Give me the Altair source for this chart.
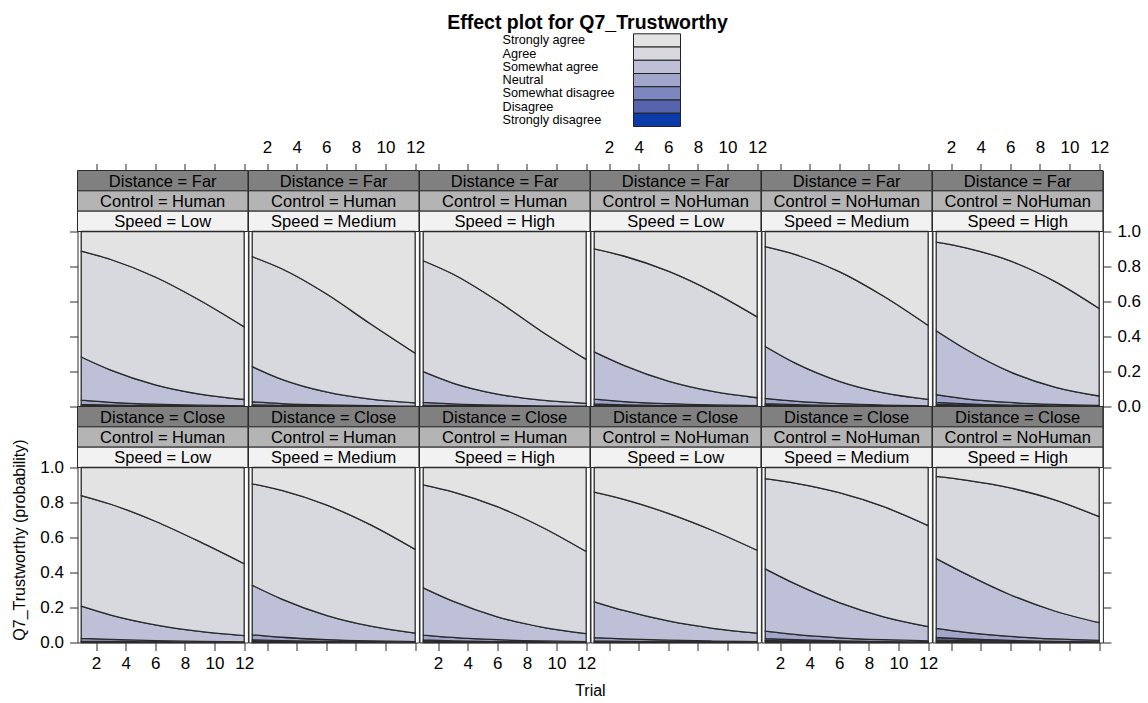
import altair as alt
import pandas as pd

FONT = "Liberation Sans"

# ---------------- data ----------------
trials = [1, 3, 6, 9, 12]

distance = ["Far"] * 6 + ["Close"] * 6
control = ["Human", "Human", "Human", "NoHuman", "NoHuman", "NoHuman"] * 2
speed = ["Low", "Medium", "High"] * 4

categories = ["Strongly disagree", "Disagree", "Somewhat disagree", "Neutral",
              "Somewhat agree", "Agree", "Strongly agree"]
colors = ["#0B3BA8", "#5663AD", "#7D86BF", "#A1A6CB", "#BDC0D6", "#D8D9DF", "#E3E3E3"]

# cumulative probabilities P(response <= level) at trials 1, 3, 6, 9, 12 (one row per panel)
cum_sd = [
    [0.0027, 0.0018, 0.0010, 0.0005, 0.0003],
    [0.0020, 0.0012, 0.0006, 0.0003, 0.0002],
    [0.0017, 0.0010, 0.0005, 0.0003, 0.0001],
    [0.0030, 0.0021, 0.0011, 0.0006, 0.0004],
    [0.0035, 0.0022, 0.0011, 0.0006, 0.0003],
    [0.0051, 0.0033, 0.0017, 0.0008, 0.0004],
    [0.0018, 0.0013, 0.0008, 0.0005, 0.0003],
    [0.0033, 0.0022, 0.0012, 0.0007, 0.0004],
    [0.0031, 0.0021, 0.0012, 0.0007, 0.0004],
    [0.0021, 0.0015, 0.0010, 0.0006, 0.0004],
    [0.0049, 0.0034, 0.0020, 0.0012, 0.0007],
    [0.0062, 0.0043, 0.0025, 0.0015, 0.0009],
]
cum_d = [
    [0.0065, 0.0043, 0.0023, 0.0013, 0.0007],
    [0.0049, 0.0030, 0.0015, 0.0007, 0.0004],
    [0.0041, 0.0026, 0.0013, 0.0006, 0.0003],
    [0.0075, 0.0051, 0.0028, 0.0016, 0.0009],
    [0.0086, 0.0055, 0.0028, 0.0014, 0.0007],
    [0.0125, 0.0080, 0.0041, 0.0021, 0.0010],
    [0.0043, 0.0031, 0.0019, 0.0011, 0.0007],
    [0.0080, 0.0054, 0.0030, 0.0017, 0.0009],
    [0.0075, 0.0051, 0.0029, 0.0016, 0.0009],
    [0.0050, 0.0037, 0.0023, 0.0015, 0.0009],
    [0.0119, 0.0083, 0.0049, 0.0028, 0.0017],
    [0.0151, 0.0106, 0.0062, 0.0036, 0.0021],
]
cum_swd = [
    [0.0124, 0.0083, 0.0045, 0.0024, 0.0013],
    [0.0093, 0.0058, 0.0029, 0.0014, 0.0007],
    [0.0078, 0.0049, 0.0024, 0.0012, 0.0006],
    [0.0142, 0.0096, 0.0054, 0.0030, 0.0017],
    [0.0163, 0.0104, 0.0053, 0.0027, 0.0014],
    [0.0237, 0.0152, 0.0078, 0.0039, 0.0020],
    [0.0082, 0.0059, 0.0036, 0.0021, 0.0013],
    [0.0152, 0.0104, 0.0058, 0.0032, 0.0018],
    [0.0142, 0.0097, 0.0054, 0.0031, 0.0017],
    [0.0096, 0.0070, 0.0045, 0.0028, 0.0018],
    [0.0225, 0.0158, 0.0093, 0.0054, 0.0032],
    [0.0285, 0.0200, 0.0118, 0.0069, 0.0040],
]
cum_n = [
    [0.036, 0.024, 0.013, 0.0073, 0.0040],
    [0.027, 0.017, 0.0085, 0.0042, 0.0021],
    [0.023, 0.015, 0.0072, 0.0035, 0.0017],
    [0.042, 0.028, 0.016, 0.0089, 0.0050],
    [0.047, 0.031, 0.016, 0.0080, 0.0041],
    [0.068, 0.044, 0.023, 0.0118, 0.0060],
    [0.024, 0.0175, 0.0106, 0.0064, 0.0039],
    [0.044, 0.030, 0.017, 0.0096, 0.0054],
    [0.042, 0.029, 0.016, 0.0091, 0.0051],
    [0.028, 0.021, 0.013, 0.0084, 0.0053],
    [0.065, 0.046, 0.027, 0.0161, 0.0095],
    [0.081, 0.058, 0.035, 0.0204, 0.0120],
]
cum_swa = [
    [0.283, 0.208, 0.124, 0.071, 0.040],
    [0.228, 0.155, 0.083, 0.042, 0.021],
    [0.199, 0.134, 0.071, 0.036, 0.018],
    [0.312, 0.235, 0.145, 0.086, 0.050],
    [0.343, 0.249, 0.144, 0.078, 0.041],
    [0.433, 0.327, 0.198, 0.111, 0.060],
    [0.208, 0.157, 0.101, 0.063, 0.039],
    [0.327, 0.248, 0.155, 0.093, 0.054],
    [0.312, 0.236, 0.147, 0.088, 0.051],
    [0.233, 0.183, 0.123, 0.081, 0.053],
    [0.421, 0.336, 0.228, 0.147, 0.091],
    [0.480, 0.392, 0.273, 0.180, 0.113],
]
cum_a = [
    [0.888, 0.840, 0.740, 0.607, 0.455],
    [0.856, 0.787, 0.644, 0.471, 0.304],
    [0.833, 0.757, 0.604, 0.429, 0.269],
    [0.901, 0.860, 0.773, 0.655, 0.512],
    [0.913, 0.869, 0.771, 0.630, 0.463],
    [0.939, 0.907, 0.832, 0.715, 0.560],
    [0.840, 0.790, 0.693, 0.576, 0.450],
    [0.907, 0.869, 0.786, 0.672, 0.532],
    [0.901, 0.861, 0.776, 0.660, 0.520],
    [0.859, 0.818, 0.738, 0.640, 0.527],
    [0.936, 0.911, 0.856, 0.776, 0.668],
    [0.949, 0.928, 0.883, 0.815, 0.719],
]

x_ticks = [2, 4, 6, 8, 10, 12]
y_ticks = [0.0, 0.2, 0.4, 0.6, 0.8, 1.0]
strip_levels = ["Distance", "Control", "Speed"]
strip_fills = ["#808080", "#B4B4B4", "#F2F2F2"]
title_text = "Effect plot for Q7_Trustworthy"

# ---------------- tables ----------------
bounds_list = [cum_sd, cum_d, cum_swd, cum_n, cum_swa, cum_a]
rows = []
for p in range(12):
    for j, t in enumerate(trials):
        levels = [0.0] + [b[p][j] for b in bounds_list] + [1.0]
        for k, cat in enumerate(categories):
            rows.append({"panel": p, "Trial": t, "category": cat,
                         "lo": levels[k], "hi": levels[k + 1]})
df = pd.DataFrame(rows)

W = 170.4
PH = 175
SH = 61
H = PH + SH
LINE = "#2a2a2a"

fill_scale = alt.Scale(domain=categories, range=colors)
legend_order = categories[::-1]


def make_panel(p):
    r, c = divmod(p, 6)
    d = df[df.panel == p]

    xscale = alt.Scale(domain=[0.75, 12.25], nice=False, zero=False)
    yscale = alt.Scale(domain=[0, 1], range=[H, SH], nice=False, zero=False)

    if r == 0:
        xaxis = alt.Axis(orient="top", values=x_ticks, labels=(c % 2 == 1),
                         tickSize=7, labelPadding=7, title=None)
    else:
        if c == 2:
            xaxis = alt.Axis(orient="bottom", values=x_ticks, labels=True,
                             tickSize=8, labelPadding=5, title="Trial",
                             titleX=W, titlePadding=11)
        else:
            xaxis = alt.Axis(orient="bottom", values=x_ticks, labels=(c % 2 == 0),
                             tickSize=8, labelPadding=5, title=None)

    if c == 0:
        if r == 1:
            yaxis = alt.Axis(orient="left", values=y_ticks, format=".1f", labels=True,
                             tickSize=8, labelPadding=6,
                             title="Q7_Trustworthy (probability)", titlePadding=12,
                             titleY=133)
        else:
            yaxis = alt.Axis(orient="left", values=y_ticks, labels=False,
                             tickSize=8, title=None)
    elif c == 5:
        yaxis = alt.Axis(orient="right", values=y_ticks, format=".1f", labels=(r == 0),
                         tickSize=8, labelPadding=6, title=None)
    else:
        yaxis = None

    area = alt.Chart(d).mark_area(
        interpolate="monotone", stroke=LINE, strokeWidth=1.3, strokeJoin="round"
    ).encode(
        x=alt.X("Trial:Q", scale=xscale, axis=xaxis),
        y=alt.Y("lo:Q", scale=yscale, axis=yaxis, stack=None),
        y2="hi:Q",
        fill=alt.Fill("category:N", scale=fill_scale, legend=None),
    )

    sd = pd.DataFrame({
        "level": strip_levels,
        "label": [f"Distance = {distance[p]}", f"Control = {control[p]}",
                  f"Speed = {speed[p]}"],
        "sfill": strip_fills,
    })
    sscale = alt.Scale(domain=strip_levels, range=[0, SH], paddingInner=0, paddingOuter=0)
    strip = alt.Chart(sd).mark_rect(stroke=LINE, strokeWidth=1).encode(
        x=alt.value(0), x2=alt.value("width"),
        y=alt.Y("level:N", scale=sscale, axis=None),
        color=alt.Color("sfill:N", scale=None),
    )
    stext = alt.Chart(sd).mark_text(font=FONT, fontSize=16.5, color="black",
                                    baseline="middle", dy=1).encode(
        x=alt.value(W / 2),
        y=alt.Y("level:N", scale=sscale, axis=None),
        text="label:N",
    )
    layers = [strip, stext, area]

    if p == 3:
        ld = pd.DataFrame({"category": legend_order})
        lscale = alt.Scale(domain=legend_order, range=[-136.7, -44],
                           paddingInner=0, paddingOuter=0)
        lrect = alt.Chart(ld).mark_rect(stroke="#222222", strokeWidth=1).encode(
            x=alt.value(43), x2=alt.value(90),
            y=alt.Y("category:N", scale=lscale, axis=None),
            fill=alt.Fill("category:N", scale=fill_scale, legend=None),
        )
        ltext = alt.Chart(ld).mark_text(font=FONT, fontSize=12.7, align="left",
                                        baseline="middle", color="black").encode(
            x=alt.value(-88),
            y=alt.Y("category:N", scale=lscale, axis=None),
            text="category:N",
        )
        ttl = alt.Chart(pd.DataFrame({"t": [title_text]})).mark_text(
            font=FONT, fontSize=19.5, fontWeight="bold", align="center",
            baseline="alphabetic", color="black"
        ).encode(x=alt.value(-3), y=alt.value(-142), text="t:N")
        layers += [lrect, ltext, ttl]

    return alt.layer(*layers).resolve_scale(y="independent").properties(width=W, height=H)


panels = [make_panel(p) for p in range(12)]

chart = alt.concat(*panels, columns=6, spacing=0, bounds="flush").properties(
    padding={"left": 10.5, "top": 11.5, "right": 5, "bottom": 5},
    background="white",
).configure_view(
    stroke=LINE, strokeWidth=1
).configure_axis(
    labelFont=FONT, titleFont=FONT, labelFontSize=17, titleFontSize=16,
    labelColor="black", titleColor="black", titleFontWeight="normal",
    tickColor=LINE, tickWidth=1, domain=False, grid=False,
)

chart.save("out.html", embed_options={"renderer": "svg", "actions": False})
